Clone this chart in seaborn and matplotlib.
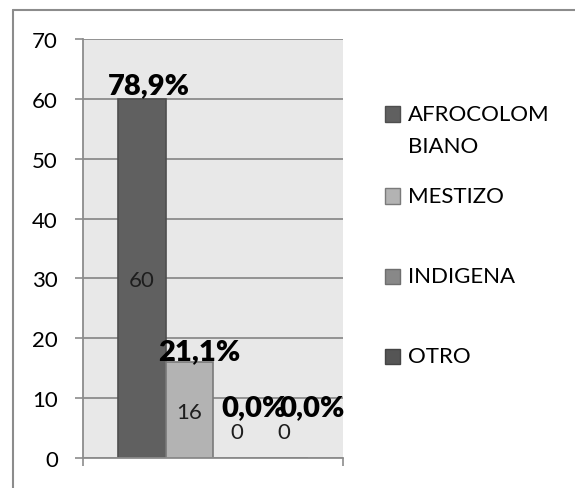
import textwrap
import matplotlib
matplotlib.use("Agg")
import matplotlib.pyplot as plt
from matplotlib.lines import Line2D
from matplotlib.patches import Rectangle
import seaborn as sns
import pandas as pd

# ---- data ----
categories = ["AFROCOLOMBIANO", "MESTIZO", "INDIGENA", "OTRO"]
values = [60, 16, 0, 0]
yticks = [0, 10, 20, 30, 40, 50, 60, 70]

colors = ["#606060", "#b3b3b3", "#888888", "#555555"]
edges = ["#4e4e4e", "#7a7a7a", "#6e6e6e", "#444444"]

df = pd.DataFrame({"grupo": [""] * len(categories), "etnia": categories, "valor": values})

sns.set_theme(style="white")
plt.rcParams["font.family"] = ["Lato", "DejaVu Sans"]

W, H = 575, 489
fig = plt.figure(figsize=(W / 100, H / 100), dpi=100)
ax = fig.add_axes([83 / W, 30 / H, 260 / W, 419 / H])

sns.barplot(data=df, x="grupo", y="valor", hue="etnia", hue_order=categories,
            palette=colors, width=0.727, ax=ax, legend=False, saturation=1,
            linewidth=1.2)
for p, ec in zip(ax.patches, edges):
    p.set_edgecolor(ec)

ax.set_facecolor("#e8e8e8")
ax.set_xlim(-0.5, 0.5)
ax.set_ylim(0, 70)
ax.set_yticks(yticks)
ax.set_yticklabels([str(t) for t in yticks], fontsize=16, color="black")
ax.set_xticks([-0.5, 0.5])
ax.set_xticklabels(["", ""])
ax.set_xlabel("")
ax.set_ylabel("")
ax.tick_params(axis="y", length=6, width=1.2, color="#8c8c8c", pad=12, left=True)
ax.tick_params(axis="x", length=6, width=1.2, color="#8c8c8c", bottom=True)
ax.yaxis.grid(True, color="#8c8c8c", linewidth=1.3)
ax.set_axisbelow(True)
for s in ["top", "right"]:
    ax.spines[s].set_visible(False)
for s in ["bottom", "left"]:
    ax.spines[s].set_color("#8c8c8c")
    ax.spines[s].set_linewidth(1.3)

total = sum(values)
pct_dx = [7, 10, 17, 28]
for i, (p, v) in enumerate(zip(ax.patches, values)):
    cx = p.get_x() + p.get_width() / 2
    h = p.get_height()
    # count labels
    ax.annotate(str(v), (cx, h / 2), xytext=(0, 26 if v == 0 else -2),
                textcoords="offset pixels", ha="center", va="center",
                fontsize=16, color="#1e1e1e")
    # percentage labels
    pct = f"{100 * v / total:.1f}".replace(".", ",") + "%"
    dy = 51 if v == 0 else (14 if h > 30 else 11)
    ax.annotate(pct, (cx, h), xytext=(pct_dx[i], dy), textcoords="offset pixels",
                ha="center", va="center", fontsize=21, fontweight="heavy",
                color="black", annotation_clip=False)

# manual legend (Excel-like)
leg_y = [115, 197, 277, 357]
for name, c, ec, yy in zip(categories, colors, edges, leg_y):
    fig.add_artist(Rectangle((385 / W, 1 - (yy + 7.5) / H), 15 / W, 15 / H,
                             transform=fig.transFigure, facecolor=c,
                             edgecolor=ec, linewidth=1))
    lines = textwrap.wrap(name, 9)
    for k, ln in enumerate(lines):
        fig.text(408 / W, 1 - (yy + 32 * k) / H, ln, fontsize=16, color="black",
                 ha="left", va="center")

# outer border (top and left visible)
fig.add_artist(Line2D([13 / W, 1.01], [1 - 11 / H, 1 - 11 / H], transform=fig.transFigure,
                      color="#8c8c8c", linewidth=1.5))
fig.add_artist(Line2D([13 / W, 13 / W], [-0.01, 1 - 11 / H], transform=fig.transFigure,
                      color="#8c8c8c", linewidth=1.5))

fig.savefig("out.png", dpi=100, facecolor="white")
